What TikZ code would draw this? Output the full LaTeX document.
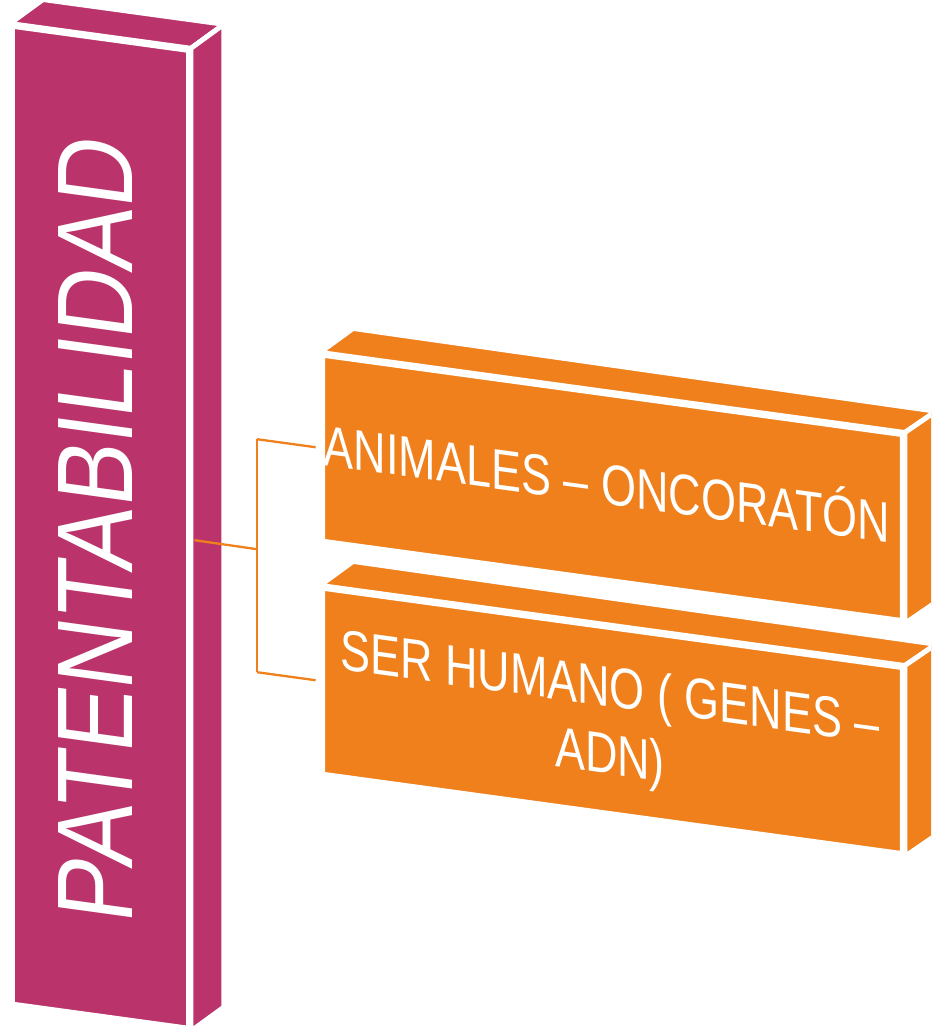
\documentclass[tikz,border=0pt]{standalone}
\usepackage{fontspec}
\usepackage{tikz}
\usetikzlibrary{positioning,calc}
\newfontfamily\patfont[FakeStretch=0.88]{Liberation Sans}
\newfontfamily\boxfont[FakeStretch=0.785]{Liberation Sans}
\definecolor{berry}   {HTML}{BA346B}
\definecolor{mandarin}{HTML}{F0801C}
\tikzset{
  % --- faces
  face/.style  = {draw=white, line width=2.8pt, line join=miter},
  front/.style = {face, rectangle, inner sep=0pt, transform shape},
  pfill/.style = {face, fill=berry},
  ofill/.style = {face, fill=mandarin},
  % --- texts
  ptxt/.style  = {text=white, inner sep=0pt, transform shape, rotate=90, anchor=base,
                  font=\patfont\fontsize{61.2}{70}\selectfont},
  otxt/.style  = {text=white, inner sep=0pt, transform shape, anchor=base, align=center,
                  font=\boxfont\fontsize{32.6}{38.4}\selectfont},
  % --- edges
  lnk/.style   = {draw=mandarin, line width=1.3pt},
}
\begin{document}
\begin{tikzpicture}[x=0.02cm, y=-0.02cm,
  pbox/.style={front, fill=berry, minimum width=3.52cm, minimum height=19.56cm},
  obox/.style={front, fill=mandarin, minimum width=11.6cm, minimum height=3.72cm},
]
  \useasboundingbox (0,0) rectangle (931,1027);
  \clip (0,0) rectangle (931,1027);
  \begin{scope}[yslant=-0.137]
  % main column
  \node[pbox] (pat) at (100.5,513.5) {};
  \draw[pfill] (pat.north west) -- ++(33,-28.5) -- ($(pat.north east)+(33,-28.5)$) -- (pat.north east) -- cycle;
  \draw[pfill] (pat.north east) -- ++(33,-28.5) -- ($(pat.south east)+(33,-28.5)$) -- (pat.south east) -- cycle;
  % branches
  \node[obox] (ani) at (612.5,404) {};
  \node[obox] (hum) at (612.5,637) {};
  \foreach \b in {ani,hum}{
    \draw[ofill] (\b.north west) -- ++(33,-28.5) -- ($(\b.north east)+(31,-25.5)$) -- (\b.north east) -- cycle;
    \draw[ofill] (\b.north east) -- ++(31,-25.5) -- ($(\b.south east)+(31,-25.5)$) -- (\b.south east) -- cycle;
  }
  % connectors
  \coordinate (fork) at (257,514);
  \coordinate (up)   at (257,404);
  \coordinate (dn)   at (257,637);
  \draw[lnk, shorten <=0.07cm] (pat.east) -- (fork);
  \draw[lnk] (up) -- (dn);
  \draw[lnk, shorten >=0.09cm] (up) -- (ani.west);
  \draw[lnk, shorten >=0.09cm] (dn) -- (hum.west);
  % labels
  \node[ptxt] (ptitle) at (132,515.5) {PATENTABILIDAD};
  \node[otxt] (atitle) at (607,421) {ANIMALES – ONCORATÓN};
  \node[otxt] (htitle) at (610,690.5) {SER HUMANO ( GENES –\\ADN)};
  \end{scope}
\end{tikzpicture}
\end{document}
